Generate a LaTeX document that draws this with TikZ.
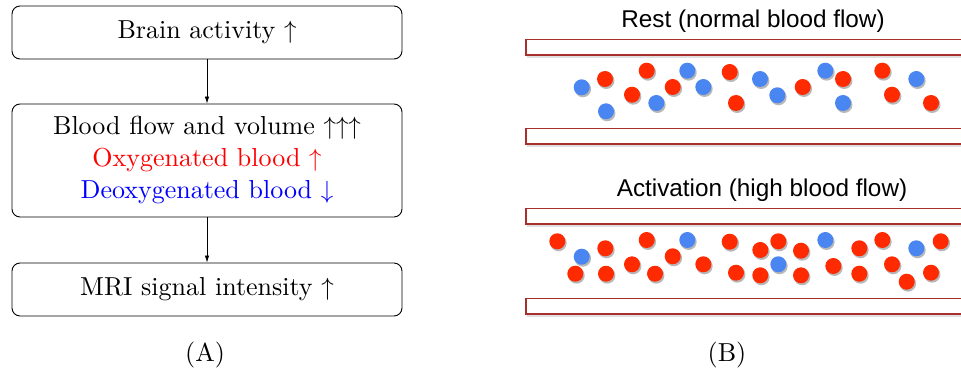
\documentclass[tikz,border=0pt]{standalone}
\usepackage{fontspec}
\setmainfont{lmroman10-regular}[Extension=.otf]
\newfontfamily\labelsans{Liberation Sans}
\usetikzlibrary{arrows.meta}
\definecolor{oxyred}{HTML}{FF2A00}
\definecolor{deoxyblue}{HTML}{4A86F2}
\definecolor{wallred}{HTML}{A8302C}
\tikzset{
  flowbox/.style={draw, rounded corners=8pt, line width=0.9pt, minimum width=390pt,
    align=center, inner sep=0pt, font=\fontsize{26}{32}\selectfont},
  flowarrow/.style={-{Latex[length=7pt,width=4.5pt]}, line width=0.7pt},
  caption/.style={font=\fontsize{26}{32}\selectfont},
  panelhead/.style={font=\labelsans\fontsize{24.3}{28}\selectfont},
  wall/.style={draw=wallred, fill=white, line width=1.4pt},
  wallshadow/.style={fill=black, opacity=0.12},
  dotshadow/.style={fill=black, opacity=0.28},
}
% circle with a soft drop shadow
\newcommand{\bloodcell}[3]{%
  \fill[dotshadow] (#1+1.2,#2+1.8) circle (8.2pt);
  \fill[#3] (#1,#2) circle (8pt);}
\newcommand{\rcell}[2]{\bloodcell{#1}{#2}{oxyred}}
\newcommand{\bcell}[2]{\bloodcell{#1}{#2}{deoxyblue}}
% vessel wall strip with a light shadow underneath
\newcommand{\vesselwall}[2]{%
  \fill[wallshadow] (527,#1+2) rectangle (970,#2+3);
  \draw[wall] (526,#1) rectangle (975,#2);}
\begin{document}
\begin{tikzpicture}[x=1pt,y=-1pt]
\useasboundingbox (0,0) rectangle (961,377);

% (A) flow chart
\node[flowbox, minimum height=53pt] (brain) at (207,32.5) {Brain activity $\uparrow$};
\node[flowbox, minimum height=113pt] (blood) at (207,160.5)
  {Blood flow and volume $\uparrow\uparrow\uparrow$\\
   \textcolor{red}{Oxygenated blood $\uparrow$}\\
   \textcolor{blue}{Deoxygenated blood $\downarrow$}};
\node[flowbox, minimum height=53pt] (mri) at (207,289.5) {MRI signal intensity $\uparrow$};
\draw[flowarrow] (brain) -- (blood);
\draw[flowarrow] (blood) -- (mri);
\node[caption] (capA) at (205,355) {(A)};

% (B) vessels at rest and during activation
\node[panelhead] (resthead) at (753,21) {Rest (normal blood flow)};
\vesselwall{39.5}{55}
\vesselwall{128.5}{144}

\bcell{581.7}{87.3}
\rcell{605}{79}
\bcell{606}{111.3}
\rcell{646.7}{70.7}
\rcell{632}{94.7}
\bcell{656.3}{103}
\rcell{672.7}{87}
\bcell{687.3}{70.7}
\bcell{703.3}{87}
\rcell{729.7}{72}
\rcell{736}{103}
\bcell{760}{79}
\bcell{777.3}{95.3}
\rcell{802.7}{87}
\bcell{825.3}{70.7}
\rcell{843}{79}
\bcell{843}{103}
\rcell{882.3}{70.7}
\rcell{892}{94.7}
\bcell{916.3}{79}
\rcell{931}{103}

\node[panelhead] (acthead) at (762,190) {Activation (high blood flow)};
\vesselwall{208.5}{224}
\vesselwall{298.5}{314}

\rcell{557.3}{241.3}
\bcell{581.7}{256.7}
\rcell{575.3}{273.7}
\rcell{605.3}{248.3}
\rcell{606}{273.7}
\rcell{646.7}{240}
\rcell{632}{264.3}
\rcell{655}{273.7}
\rcell{672.7}{256.3}
\bcell{687.3}{240}
\rcell{703.3}{264.3}
\rcell{729.7}{241.7}
\rcell{736}{272.7}
\rcell{760.3}{250}
\rcell{760.3}{275.3}
\rcell{778.3}{241.3}
\bcell{778.3}{264.3}
\rcell{801}{250.7}
\rcell{801}{275.3}
\bcell{825.3}{240}
\rcell{833.3}{266}
\rcell{859.3}{248.3}
\rcell{859.3}{273.7}
\rcell{882.3}{240}
\rcell{892}{264.3}
\bcell{916.3}{248.3}
\rcell{906.7}{281.7}
\rcell{931}{272.7}
\rcell{940.7}{241.3}

\node[caption] (capB) at (727,355) {(B)};
\end{tikzpicture}
\end{document}
